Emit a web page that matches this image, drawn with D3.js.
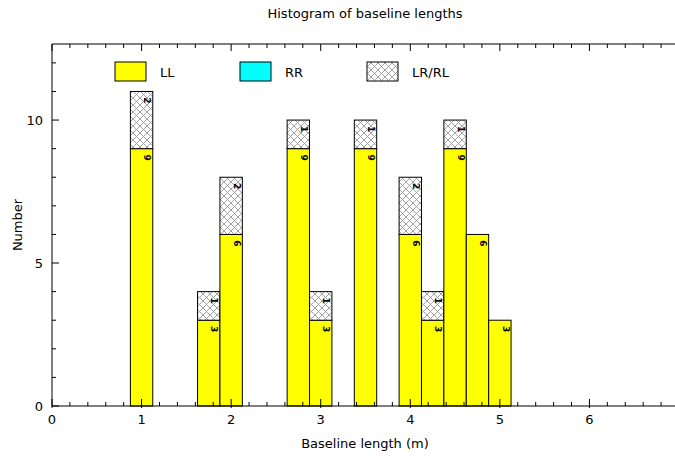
<!DOCTYPE html>
<html><head><meta charset="utf-8">
<script src="https://cdn.jsdelivr.net/npm/d3@7"></script>
<style>body{margin:0;background:#fff}text{font-family:"DejaVu Sans","Liberation Sans",sans-serif}</style>
</head><body>
<script>
const centers = [1.0, 1.75, 2.0, 2.75, 3.0, 3.5, 4.0, 4.25, 4.5, 4.75, 5.0];
const LL = [9, 3, 6, 9, 3, 9, 6, 3, 9, 6, 3];
const RR = [0, 0, 0, 0, 0, 0, 0, 0, 0, 0, 0];
const LRRL = [2, 1, 2, 1, 1, 1, 2, 1, 1, 0, 0];
const xTicks = [0, 1, 2, 3, 4, 5, 6];
const yTicks = [0, 5, 10];
const series = ["LL", "RR", "LR/RL"];
const binWidth = 0.25;

const W = 675, H = 456;
const svg = d3.select("body").append("svg").attr("width", W).attr("height", H);
const defs = svg.append("defs");
const pat = defs.append("pattern").attr("id", "hatch").attr("patternUnits", "userSpaceOnUse")
  .attr("width", 7).attr("height", 7);
pat.append("rect").attr("width", 7).attr("height", 7).attr("fill", "#fff");
pat.append("path").attr("d", "M0,0L7,7M7,0L0,7M-1,6L1,8M6,-1L8,1M-1,1L1,-1M6,8L8,6")
  .attr("stroke", "#999").attr("stroke-width", 0.9);

const x = d3.scaleLinear().domain([0, 7]).range([52, 679]);
const y = d3.scaleLinear().domain([0, 12.66]).range([406, 44]);
const fills = {"LL": "#ffff00", "RR": "#00ffff", "LR/RL": "url(#hatch)"};

// bars
const g = svg.append("g");
centers.forEach((c, i) => {
  const vals = [LL[i], RR[i], LRRL[i]];
  let base = 0;
  vals.forEach((v, k) => {
    if (v <= 0) return;
    const x0 = x(c - binWidth / 2), x1 = x(c + binWidth / 2);
    const yt = y(base + v), yb = y(base);
    g.append("rect").attr("x", x0).attr("y", yt).attr("width", x1 - x0).attr("height", yb - yt)
      .attr("fill", fills[series[k]]).attr("stroke", "#000").attr("stroke-width", 1);
    g.append("text").attr("transform", `translate(${x1 - 5.5},${yt + 9}) rotate(90)`)
      .attr("text-anchor", "middle").attr("dominant-baseline", "central")
      .attr("font-size", 9).attr("font-weight", "bold").text(v);
    base += v;
  });
});

// axes frame
const ax = svg.append("g").attr("stroke", "#000").attr("stroke-width", 1).attr("fill", "none");
ax.append("line").attr("x1", 52).attr("x2", W).attr("y1", 406).attr("y2", 406);
ax.append("line").attr("x1", 52).attr("x2", W).attr("y1", 44).attr("y2", 44);
ax.append("line").attr("x1", 52).attr("x2", 52).attr("y1", 44).attr("y2", 406);

// x ticks
const minorX = d3.range(0, 7.001, 0.2).filter(v => Math.abs(v - Math.round(v)) > 1e-6);
minorX.forEach(v => {
  ax.append("line").attr("x1", x(v)).attr("x2", x(v)).attr("y1", 406).attr("y2", 402);
  ax.append("line").attr("x1", x(v)).attr("x2", x(v)).attr("y1", 44).attr("y2", 48);
});
d3.range(0, 7).forEach(v => {
  ax.append("line").attr("x1", x(v)).attr("x2", x(v)).attr("y1", 408).attr("y2", 399);
  ax.append("line").attr("x1", x(v)).attr("x2", x(v)).attr("y1", 44).attr("y2", 51);
});
// y ticks
d3.range(0, 13).forEach(v => {
  const major = v % 5 === 0;
  ax.append("line").attr("x1", 52).attr("x2", 52 + (major ? 7 : 4)).attr("y1", y(v)).attr("y2", y(v));
});

svg.selectAll(".xl").data(xTicks).join("text").attr("x", d => x(d)).attr("y", 424)
  .attr("text-anchor", "middle").attr("font-size", 13).text(d => d);
svg.selectAll(".yl").data(yTicks).join("text").attr("x", 43).attr("y", d => y(d) + 5)
  .attr("text-anchor", "end").attr("font-size", 13).text(d => d);

svg.append("text").attr("x", 365).attr("y", 18).attr("text-anchor", "middle").attr("font-size", 13)
  .text("Histogram of baseline lengths");
svg.append("text").attr("x", 365).attr("y", 448).attr("text-anchor", "middle").attr("font-size", 13)
  .text("Baseline length (m)");
svg.append("text").attr("transform", "translate(22,225) rotate(-90)").attr("text-anchor", "middle")
  .attr("font-size", 13).text("Number");

// legend
const legX = [115, 240, 367];
series.forEach((s, i) => {
  svg.append("rect").attr("x", legX[i]).attr("y", 62).attr("width", 31).attr("height", 19)
    .attr("fill", fills[s]).attr("stroke", "#000").attr("stroke-width", 1);
  svg.append("text").attr("x", legX[i] + 45).attr("y", 77).attr("font-size", 13).text(s);
});
</script>
</body></html>
